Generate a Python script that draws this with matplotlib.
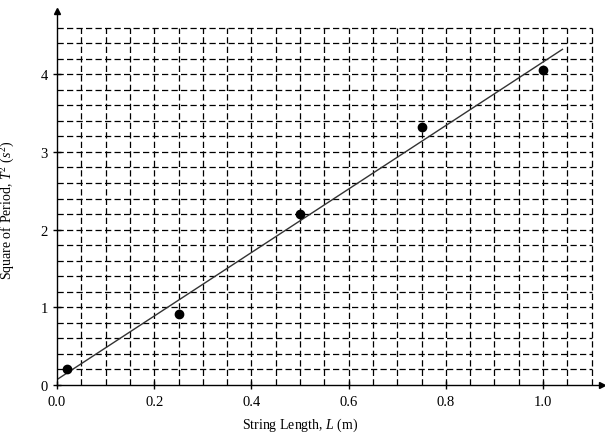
import matplotlib
matplotlib.use("Agg")
import matplotlib.pyplot as plt
import numpy as np

plt.rcParams['font.family'] = ['Liberation Serif', 'DejaVu Serif']
plt.rcParams['mathtext.fontset'] = 'custom'
plt.rcParams['mathtext.rm'] = 'Liberation Serif'
plt.rcParams['mathtext.it'] = 'Liberation Serif:italic'

# Data
length_m = [0.02, 0.25, 0.50, 0.75, 1.00]
period_sq = [0.20, 0.92, 2.20, 3.32, 4.05]
fit_x = [0.0, 1.04]
fit_y = [0.07, 4.32]
x_ticks = [0.0, 0.2, 0.4, 0.6, 0.8, 1.0]
x_tick_labels = ['0.0', '0.2', '0.4', '0.6', '0.8', '1.0']
y_ticks = [0, 1, 2, 3, 4]
y_tick_labels = ['0', '1', '2', '3', '4']
grid_x = np.round(np.arange(0.05, 1.1001, 0.05), 3)
grid_y = np.round(np.arange(0.2, 4.6001, 0.2), 3)

fig = plt.figure(figsize=(6.05, 4.35), dpi=100)
ax = fig.add_axes([57/605, 49/435, (602-57)/605, (386-12)/435])
xmax = (602-57)/486
ymax = (386-12)/77.7
ax.set_xlim(0, xmax)
ax.set_ylim(0, ymax)

dash = (0, (5, 2.6))
ax.vlines(grid_x, 0, grid_y[-1], colors='black', linestyles=dash, linewidth=0.9)
ax.hlines(grid_y, 0, grid_x[-1], colors='black', linestyles=dash, linewidth=0.9)

ax.plot(fit_x, fit_y, color='#333333', linewidth=1.0)
ax.plot(length_m, period_sq, 'o', color='black', markersize=6)

for s in ['top', 'right']:
    ax.spines[s].set_visible(False)
for s in ['left', 'bottom']:
    ax.spines[s].set_linewidth(1.0)

ax.plot(1, 0, marker='>', color='black', markersize=4, transform=ax.transAxes, clip_on=False)
ax.plot(0, 1, marker='^', color='black', markersize=4, transform=ax.transAxes, clip_on=False)

ax.set_xticks(x_ticks)
ax.set_xticklabels(x_tick_labels)
ax.set_yticks(y_ticks)
ax.set_yticklabels(y_tick_labels)
ax.tick_params(axis='both', direction='inout', length=6, width=1.0, labelsize=10.5)
ax.tick_params(axis='x', pad=4)

W = 602 - 57
H = 386 - 12
ax.set_xlabel('String Length, $L$ (m)', fontsize=10)
ax.set_ylabel('Square of Period, $T^2$ $(s^2)$', fontsize=10)
ax.xaxis.set_label_coords((300 - 57)/W, -(417-386)/H)
ax.yaxis.set_label_coords(-(57-17)/W, (386-210)/H)

fig.savefig('out.png', dpi=100)
